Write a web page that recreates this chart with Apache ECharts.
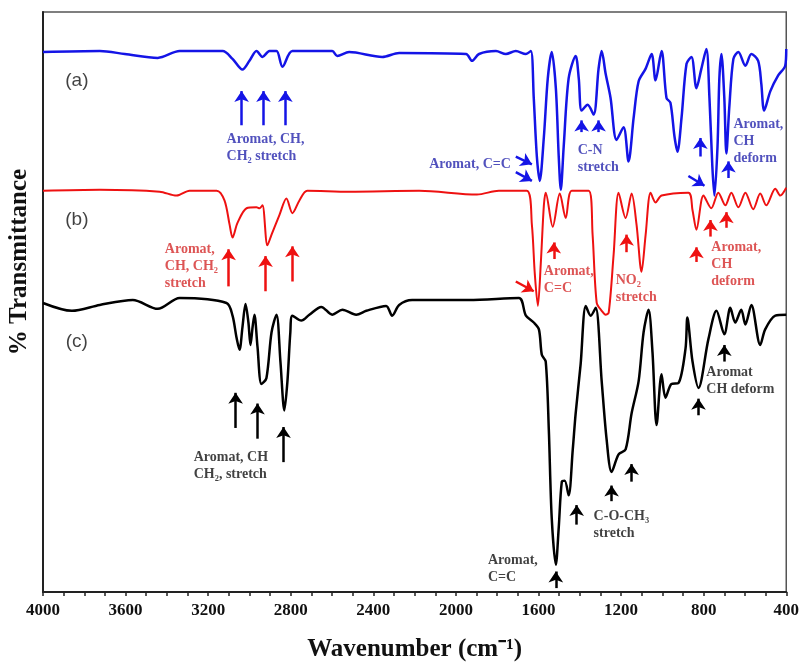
<!DOCTYPE html>
<html><head><meta charset="utf-8">
<script src="https://cdn.jsdelivr.net/npm/echarts@6/dist/echarts.min.js"></script>
<style>html,body{margin:0;padding:0;background:#fff}#c{width:802px;height:667px}</style>
</head><body><div id="c"></div>
<script>
// Wavenumber (cm-1) vs. offset transmittance (arbitrary units)
const specA = [[4000,553],[3725,554],[3604,551],[3444,547],[3338,554],[3130,554],[3082,546],[3034,535],[3000,544],[2966,554],[2937,548],[2903,554],[2869,554],[2840,538],[2792,554],[2599,554],[2575,549],[2517,553],[2357,548],[2275,552],[1951,551],[1922,544],[1888,551],[1806,554],[1758,551],[1710,554],[1661,551],[1637,554],[1623,506],[1608,446],[1594,421],[1574,466],[1555,526],[1536,553],[1516,516],[1502,446],[1492,412],[1478,456],[1454,526],[1420,549],[1405,526],[1391,493],[1362,499],[1333,489],[1309,536],[1294,554],[1275,531],[1251,506],[1222,463],[1188,476],[1164,441],[1139,486],[1115,523],[1081,536],[1052,551],[1033,524],[1004,554],[980,506],[961,501],[941,466],[927,451],[907,486],[883,541],[859,548],[835,516],[811,536],[787,556],[772,506],[758,436],[748,406],[733,456],[724,526],[714,551],[700,506],[690,449],[676,496],[656,546],[632,553],[598,539],[569,551],[536,544],[521,521],[507,493],[477,513],[439,529],[405,539],[400,556]];
const specB = [[4000,411],[3725,412],[3435,410],[3353,406],[3290,411],[3159,411],[3121,401],[3096,376],[3082,363],[3058,378],[3014,393],[2966,394],[2951,393],[2937,396],[2913,355],[2893,366],[2855,386],[2821,403],[2792,388],[2758,401],[2720,411],[2517,410],[2178,411],[1898,407],[1792,411],[1657,411],[1632,376],[1618,326],[1603,293],[1589,336],[1574,396],[1565,409],[1531,374],[1497,408],[1468,383],[1439,411],[1357,411],[1338,366],[1318,296],[1294,288],[1275,284],[1260,286],[1236,346],[1212,409],[1178,383],[1149,408],[1125,376],[1101,328],[1081,366],[1057,409],[1033,399],[1004,406],[874,409],[854,391],[835,371],[801,406],[763,393],[729,409],[695,396],[666,409],[632,394],[598,409],[560,392],[526,408],[497,396],[453,413],[429,406],[400,414]];
const specC = [[4000,296],[3860,288],[3725,294],[3565,299],[3444,290],[3338,301],[3111,296],[3082,283],[3063,261],[3048,248],[3034,271],[3019,295],[3005,276],[2995,253],[2985,271],[2976,284],[2961,251],[2942,213],[2918,219],[2893,266],[2869,284],[2850,236],[2831,186],[2816,216],[2802,266],[2792,283],[2749,278],[2710,284],[2652,292],[2599,284],[2550,289],[2483,284],[2434,288],[2338,293],[2309,283],[2275,294],[2212,299],[1937,299],[1695,301],[1661,283],[1623,276],[1598,269],[1584,243],[1565,236],[1550,166],[1536,76],[1516,28],[1502,66],[1487,113],[1473,114],[1454,99],[1434,146],[1420,183],[1396,233],[1371,293],[1347,283],[1323,291],[1294,216],[1270,156],[1246,123],[1212,141],[1178,146],[1149,183],[1115,216],[1091,266],[1067,289],[1048,246],[1028,171],[1004,223],[985,199],[956,213],[922,214],[888,249],[879,281],[854,236],[825,209],[777,259],[738,288],[700,264],[671,291],[647,276],[618,289],[598,274],[569,294],[526,253],[502,269],[453,283],[400,284]];

const xLabelStep = 400;
const panelLabels = [[3836,524,'(a)'],[3836,381,'(b)'],[3836,256,'(c)']];

const notesA = [[3111,472,'Aromat, CH,\nCH\u2082 stretch','left'],[1734,447,'Aromat, C=C','right'],[1410,461,'C-N\nstretch','left'],[656,488,'Aromat,\nCH\ndeform','left']];
const arrowsA = [[3038,478,3038,513],[2932,478,2932,513],[2826,478,2826,513],[1710,446,1632,438],[1710,430,1632,421],[1391,471,1391,483],[1309,471,1309,483],[816,446,816,465],[874,426,796,416],[680,424,680,441]];

const notesB = [[3410,360,'Aromat,\nCH, CH\u2082\nstretch','left'],[1574,337,'Aromat,\nC=C','left'],[1226,328,'NO\u2082\nstretch','left'],[763,362,'Aromat,\nCH\ndeform','left']];
const arrowsB = [[3101,313,3101,351],[2922,308,2922,344],[2792,318,2792,354],[1526,341,1526,358],[1710,318,1623,308],[1173,348,1173,366],[835,338,835,353],[767,364,767,381],[690,373,690,389]];

const notesC = [[3270,147,'Aromat, CH\nCH\u2082, stretch','left'],[1333,86,'C-O-CH\u2083\nstretch','left'],[1845,41,'Aromat,\nC=C','left'],[787,234,'Aromat\nCH deform','left']];
const arrowsC = [[3067,168,3067,204],[2961,157,2961,193],[2835,133,2835,169],[1415,69,1415,89],[1246,93,1246,109],[1149,113,1149,131],[1516,4,1516,21],[825,181,825,198],[700,236,700,253]];

const SERIF = 'Liberation Serif, Times New Roman, serif';

function lineSeries(data, color, width, z) {
  return {type:'line', data, showSymbol:false, smooth:0.3, z, silent:true,
    lineStyle:{color, width}, itemStyle:{color}};
}
function noteSeries(notes, arrows, textColor, arrowColor) {
  return {
    type:'scatter', symbolSize:0, silent:true, z:6,
    data: notes.map(n => ({value:[n[0], n[1]], label:{formatter:n[2], align:n[3]}})),
    label:{show:true, position:[0,0], verticalAlign:'top', color:textColor,
      fontFamily:SERIF, fontWeight:'bold', fontSize:14, lineHeight:17},
    markLine:{silent:true, symbol:['none','arrow'], symbolSize:11, animation:false,
      lineStyle:{color:arrowColor, width:2.5, type:'solid'}, label:{show:false},
      emphasis:{disabled:true},
      data: arrows.map(a => [{coord:[a[0],a[1]]},{coord:[a[2],a[3]]}])}
  };
}

const chart = echarts.init(document.getElementById('c'), null, {renderer:'canvas'});
chart.setOption({
  animation:false,
  backgroundColor:'#fff',
  grid:{left:43, right:14, top:12, bottom:61, show:true, borderColor:'#555', borderWidth:1.5},
  xAxis:{type:'value', min:400, max:4000, interval:100, inverse:true,
    name:'Wavenumber (cm\u207B\u00B9)', nameLocation:'middle', nameGap:45,
    nameTextStyle:{fontFamily:SERIF, fontWeight:'bold', fontSize:25, color:'#111'},
    axisLine:{show:true, lineStyle:{color:'#222', width:2}},
    axisTick:{show:true, inside:false, length:4, lineStyle:{color:'#222', width:1.5}},
    axisLabel:{margin:10, fontFamily:SERIF, fontWeight:'bold', fontSize:17, color:'#111',
      formatter: v => (v % xLabelStep === 0 ? String(v) : '')},
    splitLine:{show:false}},
  yAxis:{type:'value', min:0, max:594, axisLabel:{show:false}, axisTick:{show:false},
    splitLine:{show:false}, axisLine:{show:true, lineStyle:{color:'#222', width:2}}},
  graphic:[{type:'text', x:20, y:262, rotation:Math.PI/2,
    style:{text:'% Transmittance', fontFamily:SERIF, fontWeight:'bold', fontSize:25,
      fill:'#111', textAlign:'center', textVerticalAlign:'middle'}}],
  series:[
    lineSeries(specC, '#000000', 2.5, 2),
    lineSeries(specB, '#ee1111', 2, 3),
    lineSeries(specA, '#1414e6', 2.5, 4),
    noteSeries(notesA, arrowsA, '#2525ad', '#1414e6'),
    noteSeries(notesB, arrowsB, '#d42a2a', '#ee1111'),
    noteSeries(notesC, arrowsC, '#111111', '#000000'),
    {type:'scatter', symbolSize:0, silent:true, z:6,
      data: panelLabels.map(p => ({value:[p[0], p[1]], label:{formatter:p[2]}})),
      label:{show:true, position:[0,0], align:'center', verticalAlign:'middle',
        fontFamily:'Liberation Sans, Arial, sans-serif', fontSize:19, color:'#111'}}
  ]
});
</script>
</body></html>
